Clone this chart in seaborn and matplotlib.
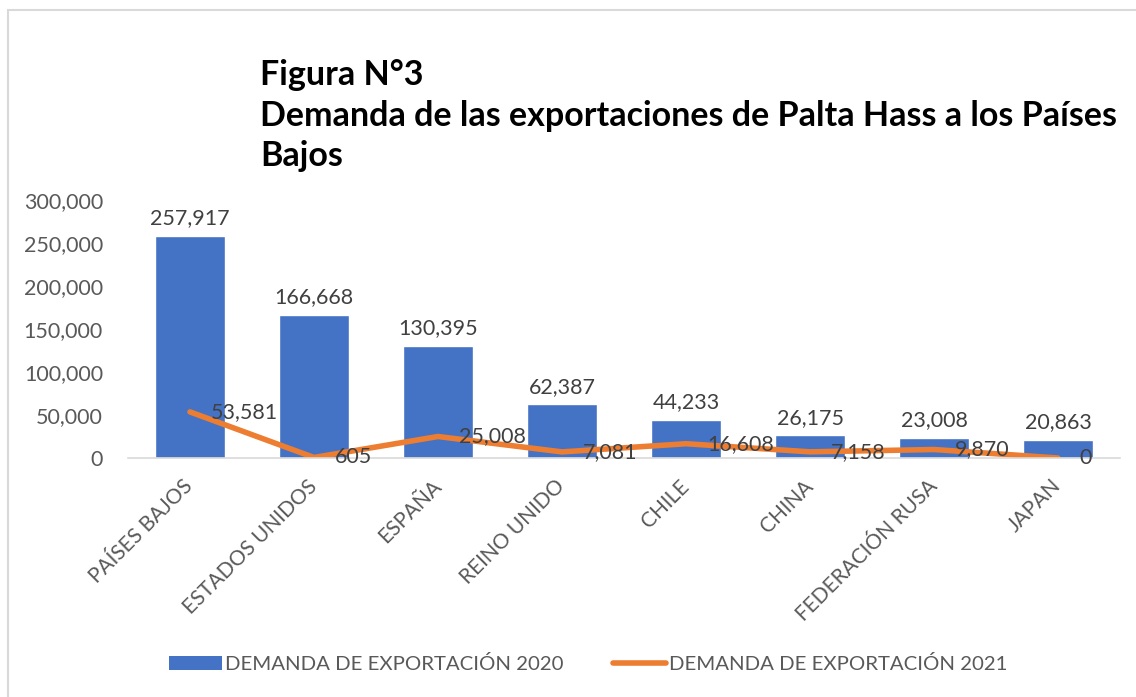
import pandas as pd
import seaborn as sns
import matplotlib.pyplot as plt
from matplotlib.patches import Patch, Rectangle
from matplotlib.lines import Line2D

countries = ['PAÍSES BAJOS', 'ESTADOS UNIDOS', 'ESPAÑA', 'REINO UNIDO',
             'CHILE', 'CHINA', 'FEDERACIÓN RUSA', 'JAPAN']
demand_2020 = [257917, 166668, 130395, 62387, 44233, 26175, 23008, 20863]
demand_2021 = [53581, 605, 25008, 7081, 16608, 7158, 9870, 0]

df = pd.DataFrame({'pais': countries, 'd2020': demand_2020, 'd2021': demand_2021})

sns.set_style("white")
plt.rcParams['font.family'] = ['Lato', 'DejaVu Sans']

blue = '#4472c4'
orange = '#ed7d31'
grey = '#595959'

fig = plt.figure(figsize=(11.36, 6.97), dpi=100)
fig.patches.append(Rectangle((8 / 1136, -0.1), 1.2, 1 - 10 / 697 + 0.1,
                             transform=fig.transFigure, fill=False,
                             edgecolor='#d9d9d9', linewidth=1.5))
ax = fig.add_axes([128 / 1136, 1 - 458 / 697, 992 / 1136, 258 / 697])

sns.barplot(data=df, x='pais', y='d2020', color=blue, width=0.565,
            saturation=1, ax=ax)
sns.lineplot(x=list(range(len(countries))), y=df['d2021'], color=orange,
             linewidth=4, ax=ax, solid_capstyle='round')

# data labels: bars above, line to the right
for i, v in enumerate(demand_2020):
    ax.text(i, v + 9000, f'{v:,}', ha='center', va='bottom', fontsize=15.5, color='#404040')
for i, v in enumerate(demand_2021):
    ax.text(i + 0.17, v, f'{v:,}', ha='left', va='center', fontsize=15.5, color='#404040')

ax.set_xlim(-0.5, len(countries) - 0.5)
ax.set_ylim(0, 300000)
ax.set_yticks(range(0, 300001, 50000))
ax.set_yticklabels([f'{t:,}' for t in range(0, 300001, 50000)])
ax.tick_params(axis='y', labelsize=15.5, labelcolor=grey, length=0, pad=18)
ax.tick_params(axis='x', labelsize=15, labelcolor=grey, length=0, pad=18)
plt.setp(ax.get_xticklabels(), rotation=45, ha='right', va='center', rotation_mode='anchor')
ax.set_xlabel('')
ax.set_ylabel('')
for s in ['top', 'right', 'left']:
    ax.spines[s].set_visible(False)
ax.spines['bottom'].set_color('#d9d9d9')
ax.spines['bottom'].set_linewidth(1.2)

fig.text(260 / 1136, 1 - 166 / 697,
         'Figura N°3\nDemanda de las exportaciones de Palta Hass a los Países\nBajos',
         fontsize=24.5, fontweight='bold', color='black', ha='left', va='baseline',
         linespacing=1.32)

handles = [Patch(facecolor=blue, edgecolor='none'),
           Line2D([0], [0], color=orange, linewidth=4, solid_capstyle='round')]
fig.legend(handles, ['DEMANDA DE EXPORTACIÓN 2020', 'DEMANDA DE EXPORTACIÓN 2021'],
           loc='center', bbox_to_anchor=(588 / 1136, 1 - 664 / 697), ncol=2,
           frameon=False, fontsize=14.7, labelcolor=grey, handlelength=2.6,
           handletextpad=0.15, columnspacing=2.4)

plt.savefig('out.png', dpi=100)
